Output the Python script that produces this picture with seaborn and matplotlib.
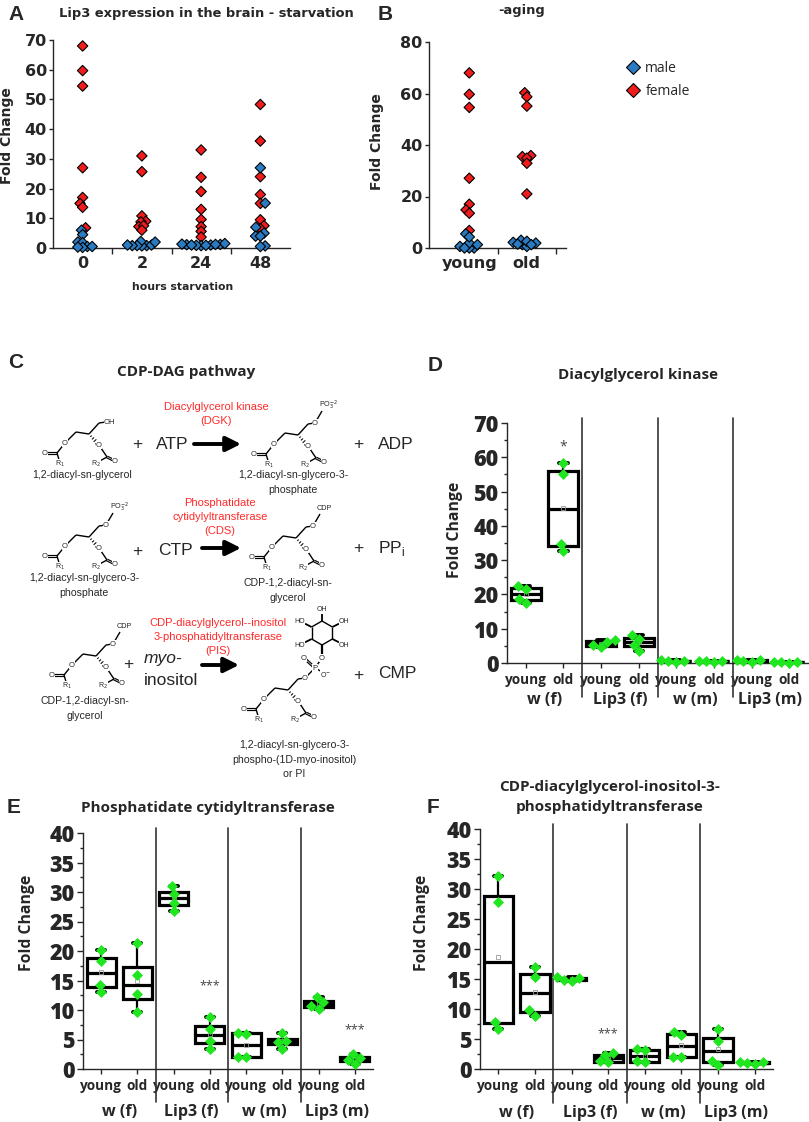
import numpy as np
import pandas as pd
import seaborn as sns
import matplotlib
matplotlib.use("Agg")
from matplotlib import pyplot as plt
from matplotlib.lines import Line2D

W, H = 809, 1122

# ---------------- panel A : starvation ----------------
hours = ["0", "2", "24", "48"]
fem_0 = [68, 59.7, 54.5, 27, 17, 15, 13.7, 6.8]
male_0 = [6.0, 4.5, 2.0, 1.8, 0.5, 0.2, 0.5, 0.3]
fem_2 = [31, 25.7, 10.8, 9.0, 8.8, 7.2, 7.5, 6.0]
male_2 = [0.8, 0.7, 2.2, 1.0, 0.8, 2.0, 0.8, 1.0]
fem_24 = [33, 23.8, 19, 13, 9.6, 7.2, 5.6, 3.7]
male_24 = [0.8, 1.0, 1.2, 0.9, 1.1, 1.0, 1.3, 1.5, 0.9, 1.2]
fem_48 = [48.3, 36, 24, 18, 15, 9.5, 7.5, 6.5]
male_48 = [27, 15.1, 7.0, 5.0, 4.0, 4.0, 0.7, 0.5]

# ---------------- panel B : aging ----------------
ages = ["young", "old"]
young_f = [68, 59.7, 54.6, 27.1, 17, 14.8, 13.5, 6.8]
young_m = [0.0, 0.0, 5.5, 1.9, 4.3, 0.6, 1.3, 0.0]
old_f = [60.3, 58.7, 55.1, 35.9, 35.5, 34.9, 32.9, 21]
old_m = [1.3, 3.0, 0.6, 2.6, 2.2, 1.9, 1.5, 1.3]

# ---------------- panels D-F : enzymes ----------------
groups = ["w (f)", "Lip3 (f)", "w (m)", "Lip3 (m)"]
conds = [g + " " + a for g in groups for a in ages]
dgk = [[17.5, 18.7, 21.6, 22.4], [32.6, 34.8, 55.1, 58.3],
       [4.7, 5.2, 6.2, 6.6], [3.4, 5.3, 7.1, 8.3],
       [0.3, 0.5, 0.6, 0.8], [0.4, 0.5, 0.5, 0.6],
       [0.4, 0.6, 0.8, 1.0], [0.1, 0.2, 0.2, 0.3]]
cds = [[13.0, 14.3, 18.3, 20.2], [9.6, 12.7, 15.9, 21.4],
       [26.8, 28.2, 29.7, 31.0], [3.4, 4.8, 6.8, 8.8],
       [2.0, 2.1, 6.0, 6.1], [3.4, 4.5, 4.8, 6.1],
       [10.2, 10.7, 11.3, 12.2], [0.9, 1.5, 1.9, 2.6]]
pis = [[6.7, 7.9, 27.8, 32.1], [8.9, 9.8, 15.4, 17.0],
       [14.6, 14.9, 15.1, 15.4], [1.1, 1.3, 2.3, 2.7],
       [1.1, 1.3, 3.1, 3.3], [2.0, 2.0, 5.7, 6.2],
       [0.6, 1.4, 4.7, 6.7], [0.9, 1.0, 1.1, 1.2]]

BLUE = "#2a7bc1"
RED = "#f01c1c"
GREEN = "#20e620"
ENZ = "#ff2a2a"

sns.set_style("ticks")
plt.rcParams["font.family"] = ["Open Sans", "DejaVu Sans"]
plt.rcParams["axes.linewidth"] = 1.0

fig = plt.figure(figsize=(W / 100, H / 100), dpi=100)


def add_ax(x0, y0, x1, y1):
    return fig.add_axes([x0 / W, 1 - y1 / H, (x1 - x0) / W, (y1 - y0) / H])


def long_df(cats, fem, male):
    rows = []
    for c, f, m in zip(cats, fem, male):
        rows += [(c, v, "female") for v in f]
        rows += [(c, v, "male") for v in m]
    return pd.DataFrame(rows, columns=["cat", "fc", "sex"])


def scatter_panel(ax, df, cats, ymax, step, xlim):
    # lay the swarm out with small markers so the points pack tightly,
    # then freeze positions and enlarge the diamonds (they overlap like the original)
    sns.swarmplot(data=df, x="cat", y="fc", hue="sex", order=cats,
                  hue_order=["female", "male"], palette={"female": RED, "male": BLUE},
                  marker="D", size=2.5, edgecolor="black", linewidth=0.8,
                  legend=False, ax=ax)
    ax.set_xlim(*xlim)
    ax.set_ylim(0, ymax)
    fig.canvas.draw()
    for c in ax.collections:
        if "draw" in c.__dict__:
            del c.draw
        c.set_sizes(np.full(len(c.get_offsets()), 5.3 ** 2))
        c.set_clip_on(False)
    ax.set_yticks(np.arange(0, ymax + 1, step))
    ax.set_xticks(range(len(cats)), labels=cats)
    ax.set_xticks([i + 0.5 for i in range(len(cats) - 1)], minor=True)
    ax.tick_params(axis="x", which="major", length=0, pad=6)
    ax.tick_params(axis="x", which="minor", length=4, width=1)
    ax.tick_params(axis="y", length=3, width=1, pad=1.5)
    for lab in ax.get_xticklabels() + ax.get_yticklabels():
        lab.set_fontfamily("DejaVu Sans")
        lab.set_fontweight("bold")
        lab.set_fontsize(11.5)
    ax.set_xlabel("")
    ax.set_ylabel("Fold Change", fontfamily="DejaVu Sans", fontweight="bold", fontsize=10)
    sns.despine(ax=ax)


# ---- A ----
ax_a = add_ax(53, 40, 290, 248)
df_a = long_df(hours, [fem_0, fem_2, fem_24, fem_48], [male_0, male_2, male_24, male_48])
scatter_panel(ax_a, df_a, hours, 70, 10, (-0.5, 3.5))
ax_a.yaxis.set_label_coords(-0.165, 0.54)

# ---- B ----
ax_b = add_ax(429, 42, 566, 248)
df_b = long_df(ages, [young_f, old_f], [young_m, old_m])
scatter_panel(ax_b, df_b, ages, 80, 20, (-0.7, 1.68))
ax_b.set_xticks([0.5, 1.5], minor=True)
ax_b.yaxis.set_label_coords(-0.33, 0.515)
handles = [Line2D([], [], ls="none", marker="D", ms=7, mfc=BLUE, mec="black", mew=0.8),
           Line2D([], [], ls="none", marker="D", ms=7, mfc=RED, mec="black", mew=0.8)]
fig.legend(handles, ["male", "female"], loc="upper left", bbox_to_anchor=(612 / W, 1 - 48 / H),
           frameon=False, handletextpad=0.3, labelspacing=0.6, handlelength=1.2,
           prop={"family": "Open Sans", "size": 10})


# ---- box panels ----
def box_panel(ax, values, ymax, major, label_y):
    df = pd.DataFrame({"cond": np.repeat(conds, 4), "fc": np.concatenate(values)})
    sns.boxplot(data=df, x="cond", y="fc", order=conds, color="white", linecolor="black",
                linewidth=2.3, width=0.8, whis=(0, 100), showmeans=True, fliersize=0,
                meanprops=dict(marker="s", markerfacecolor="none", markeredgecolor="#9a9a9a",
                               markersize=3, markeredgewidth=0.6),
                whiskerprops=dict(linewidth=1.6), capprops=dict(linewidth=2.8),
                capwidths=0.22, ax=ax)
    sns.swarmplot(data=df, x="cond", y="fc", order=conds, color=GREEN, marker="D",
                  size=5.6, linewidth=0, ax=ax)
    for c in ax.collections:
        c.set_clip_on(False)
    ax.set_xlim(-0.5, 7.5)
    ax.set_ylim(0, ymax)
    ax.set_yticks(np.arange(0, ymax + 0.1, major))
    ax.set_yticks(np.arange(0, ymax + 0.1, major / 2), minor=True)
    ax.set_xticks(range(8), labels=ages * 4)
    ax.tick_params(axis="y", which="major", length=4, width=1, labelsize=15.5, pad=2)
    ax.tick_params(axis="y", which="minor", length=2.5, width=1)
    ax.tick_params(axis="x", length=3.5, width=1, labelsize=9.8, pad=4)
    for lab in ax.get_yticklabels():
        lab.set_fontweight(800)
    for lab in ax.get_xticklabels():
        lab.set_fontweight("bold")
    ax.set_xlabel("")
    ax.set_ylabel("Fold Change", fontweight="bold", fontsize=11.3)
    sns.despine(ax=ax)
    tr = ax.get_xaxis_transform()
    for xs in [1.5, 3.5, 5.5]:
        ax.plot([xs, xs], [-0.14, 1.02], transform=tr, color="#333333", lw=1.2, clip_on=False)
    for i, g in enumerate(groups):
        ax.text(2 * i + 0.5, label_y, g, transform=tr, ha="center", va="center",
                fontsize=11.5, fontweight="bold")


ax_d = add_ax(507, 423, 808, 663)
box_panel(ax_d, dgk, 70, 10, -0.155)
ax_d.yaxis.set_label_coords(-0.145, 0.554)
ax_d.text(1, 63, "*", ha="center", va="center", fontsize=10, color="#444444")

ax_e = add_ax(83, 833, 373, 1069)
box_panel(ax_e, cds, 40, 5, -0.182)
ax_e.yaxis.set_label_coords(-0.165, 0.62)
ax_e.text(3, 14.1, "***", ha="center", va="center", fontsize=9, color="#444444")
ax_e.text(7, 6.6, "***", ha="center", va="center", fontsize=9, color="#444444")

ax_f = add_ax(480, 829, 773, 1069)
box_panel(ax_f, pis, 40, 5, -0.183)
ax_f.yaxis.set_label_coords(-0.172, 0.61)
ax_f.text(3, 5.9, "***", ha="center", va="center", fontsize=9, color="#444444")

# ---------------- overlay: titles, letters, pathway C ----------------
ov = fig.add_axes([0, 0, 1, 1])
ov.set_xlim(0, W)
ov.set_ylim(H, 0)
ov.axis("off")

LET = dict(fontsize=15, fontweight="bold", family="Liberation Sans", va="center", ha="left")
for s, x, y in [("A", 8, 14), ("B", 378, 14), ("C", 8, 362), ("D", 428, 365), ("E", 7, 807), ("F", 427, 807)]:
    ov.text(x, y, s, **LET)

ov.text(206, 13, "Lip3 expression in the brain - starvation", ha="center", va="center",
        family="DejaVu Sans", fontweight="bold", fontsize=9.4)
ov.text(522, 10, "-aging", ha="center", va="center", family="DejaVu Sans",
        fontweight="bold", fontsize=9.4)
ov.text(183, 287, "hours starvation", ha="center", va="center", family="DejaVu Sans",
        fontweight="bold", fontsize=7.8)
ov.text(638, 375, "Diacylglycerol kinase", ha="center", va="center", fontweight="bold", fontsize=11)
ov.text(208, 808, "Phosphatidate cytidyltransferase", ha="center", va="center",
        fontweight="bold", fontsize=11)
ov.text(610, 787, "CDP-diacylglycerol-inositol-3-", ha="center", va="center",
        fontweight="bold", fontsize=11)
ov.text(610, 807, "phosphatidyltransferase", ha="center", va="center",
        fontweight="bold", fontsize=11)
ov.text(186, 372, "CDP-DAG pathway", ha="center", va="center", fontweight="bold", fontsize=11)

SF = "Liberation Sans"
TEMPLATE = {"R1": (-29, 29), "C1": (-32, 19), "OdL": (-44, 19), "OL": (-24, 9),
            "Ca": (-13, -2), "CH": (0, 0), "Cb": (10, -11), "Oh": (17, -12),
            "OR": (10, 11), "C2": (18, 23), "OdR": (26, 27), "R2": (7, 29)}


def bond(p, q, lw=1.0):
    ov.plot([p[0], q[0]], [p[1], q[1]], color="black", lw=lw, solid_capstyle="butt")


def dbond(p, q):
    d = np.array(q) - np.array(p)
    n = np.array([-d[1], d[0]]) / np.hypot(*d) * 0.9
    bond(np.array(p) + n, np.array(q) + n, 0.85)
    bond(np.array(p) - n, np.array(q) - n, 0.85)


def hashed(p, q):
    p, q = np.array(p, float), np.array(q, float)
    d = q - p
    n = np.array([-d[1], d[0]]) / np.hypot(*d)
    for t in [0.2, 0.4, 0.6, 0.8, 0.95]:
        c = p + t * d
        w = 0.5 + 2.2 * t
        bond(c - n * w, c + n * w, 0.75)


def atom(p, s, size=5.5, ha="center"):
    ov.text(p[0], p[1], s, ha=ha, va="center", fontsize=size, family=SF,
            bbox=dict(facecolor="white", edgecolor="none", pad=0.2))


def molecule(cx, cy, head):
    P = {k: (cx + dx, cy + dy) for k, (dx, dy) in TEMPLATE.items()}
    bond(P["OL"], P["C1"])
    dbond(P["C1"], P["OdL"])
    bond(P["C1"], P["R1"])
    bond(P["OL"], P["Ca"])
    bond(P["Ca"], P["CH"])
    bond(P["CH"], P["Cb"])
    bond(P["Cb"], P["Oh"])
    hashed(P["CH"], P["OR"])
    bond(P["OR"], P["C2"])
    dbond(P["C2"], P["OdR"])
    bond(P["C2"], P["R2"])
    for k in ["OL", "OdL", "OR", "OdR"]:
        atom(P[k], "O")
    atom((P["R1"][0], P["R1"][1] + 1), r"R$_1$", 5)
    atom((P["R2"][0], P["R2"][1] + 1), r"R$_2$", 5)
    ox, oy = P["Oh"]
    if head == "OH":
        atom((ox - 2, oy), "OH", 5.5, ha="left")
    elif head in ("PO3", "CDP"):
        bond((ox, oy), (ox + 7, oy - 12))
        atom((ox, oy), "O")
        lab = r"PO$_3^{-2}$" if head == "PO3" else "CDP"
        ov.text(ox + 4, oy - 18, lab, ha="left", va="center", fontsize=5.2, family=SF)
    else:  # phosphatidyl-inositol head
        pP = (ox + 10, oy - 10)
        o_up = (ox + 17, oy - 20)
        bond((ox, oy), pP)
        dbond(pP, (ox - 1, oy - 20))
        bond(pP, (ox + 19, oy - 5))
        bond(pP, o_up)
        rc = (ox + 17, oy - 45)
        r = 12.0
        ang = np.deg2rad([90, 30, -30, -90, -150, 150])
        vx = rc[0] + r * np.cos(ang)
        vy = rc[1] + r * np.sin(ang)
        bond(o_up, (vx[0], vy[0]), 1.6)
        for i in range(6):
            bond((vx[i], vy[i]), (vx[(i + 1) % 6], vy[(i + 1) % 6]), 1.0)
        for i in range(1, 6):
            ex = rc[0] + 2.15 * r * np.cos(ang[i])
            ey = rc[1] + 2.0 * r * np.sin(ang[i])
            bond((vx[i], vy[i]), (0.55 * ex + 0.45 * vx[i], 0.55 * ey + 0.45 * vy[i]), 1.3)
            atom((ex, ey), "HO" if np.cos(ang[i]) < -0.1 else "OH", 5)
        atom((ox, oy), "O")
        atom(pP, "P")
        atom((ox - 1, oy - 20), "O")
        atom((ox + 21, oy - 4), r"O$^{-}$", 5)
        atom(o_up, "O")


def caption(x, y, lines):
    for i, s in enumerate(lines):
        ov.text(x, y + i * 14.5, s, ha="center", va="center", fontsize=7.6, family=SF)


def arrow(x0, x1, y):
    ov.annotate("", xy=(x1, y), xytext=(x0, y),
                arrowprops=dict(arrowstyle="-|>,head_length=0.9,head_width=0.45", lw=2.8,
                                color="black", shrinkA=0, shrinkB=0))


def big(x, y, s, ha="center"):
    ov.text(x, y, s, ha=ha, va="center", fontsize=12.5, family=SF)


def enzyme(x, y, lines):
    for i, s in enumerate(lines):
        ov.text(x, y + i * 14, s, ha="center", va="center", fontsize=8, family=SF, color=ENZ)


# row 1
molecule(89, 434, "OH")
big(137, 444, "+")
big(172, 444, "ATP")
arrow(194, 241, 444)
enzyme(216, 407, ["Diacylglycerol kinase", "(DGK)"])
molecule(298, 435, "PO3")
big(358, 444, "+")
big(378, 444, "ADP", ha="left")
caption(82, 475, ["1,2-diacyl-sn-glycerol"])
caption(293, 475, ["1,2-diacyl-sn-glycero-3-", "phosphate"])

# row 2
molecule(89, 537, "PO3")
big(137, 551, "+")
big(175, 550, "CTP")
arrow(202, 241, 548)
enzyme(220, 503, ["Phosphatidate", "cytidylyltransferase", "(CDS)"])
molecule(296, 538, "CDP")
big(358, 548, "+")
big(378, 548, r"PP$_\mathregular{i}$", ha="left")
caption(84, 578, ["1,2-diacyl-sn-glycero-3-", "phosphate"])
caption(288, 583, ["CDP-1,2-diacyl-sn-", "glycerol"])

# row 3
molecule(96, 656, "CDP")
big(128, 664, "+")
ov.text(144, 658, "myo-", ha="left", va="center", fontsize=12.5, family=SF, style="italic")
ov.text(144, 680, "inositol", ha="left", va="center", fontsize=12.5, family=SF)
arrow(202, 239, 665)
enzyme(218, 623, ["CDP-diacylglycerol--inositol", "3-phosphatidyltransferase", "(PIS)"])
molecule(288, 690, "PI")
big(358, 675, "+")
big(378, 673, "CMP", ha="left")
caption(85, 701, ["CDP-1,2-diacyl-sn-", "glycerol"])
caption(294, 745, ["1,2-diacyl-sn-glycero-3-", "phospho-(1D-myo-inositol)", "or PI"])

fig.savefig("out.png", dpi=100)
